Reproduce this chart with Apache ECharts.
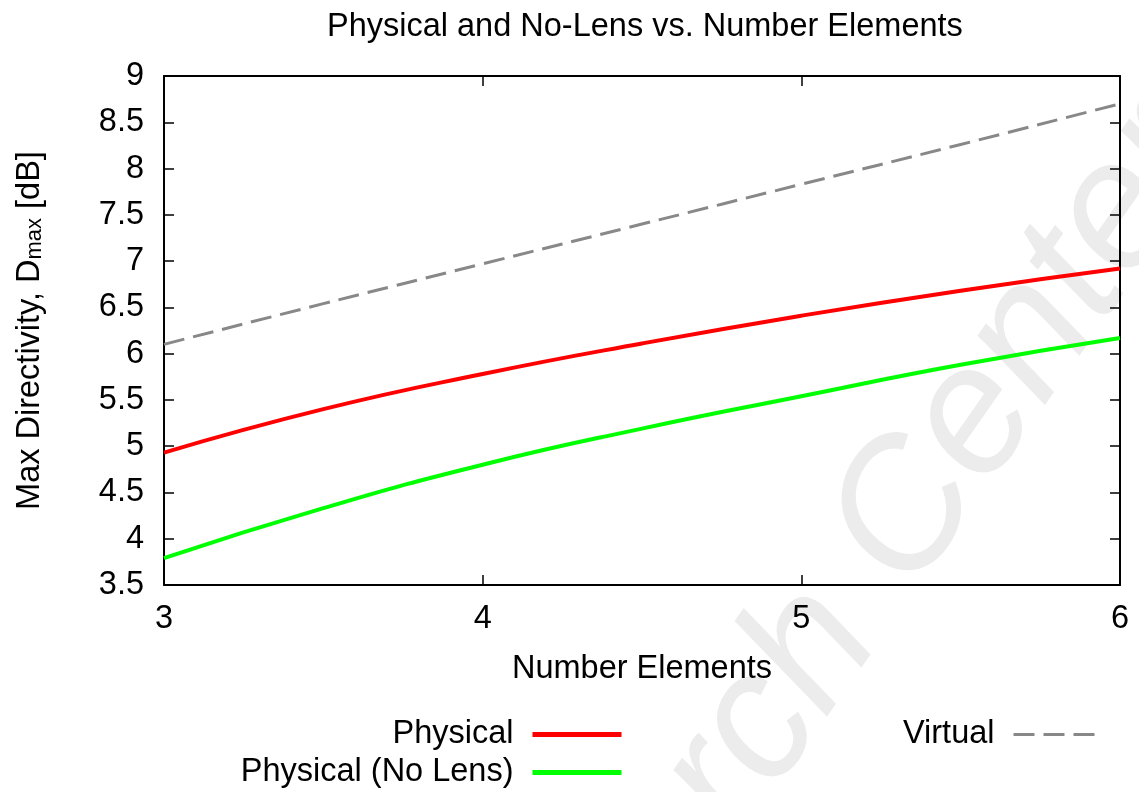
<!DOCTYPE html>
<html>
<head>
<meta charset="utf-8">
<script src="https://cdn.jsdelivr.net/npm/echarts@6/dist/echarts.min.js"></script>
<style>
html,body{margin:0;padding:0;background:#fff;}
#chart{width:1139px;height:792px;}
</style>
</head>
<body>
<div id="chart"></div>
<script>
const xValues = [3, 3.5, 4, 4.5, 5, 5.5, 6];
const physical = [4.93, 5.40, 5.78, 6.11, 6.41, 6.68, 6.92];
const physicalNoLens = [3.79, 4.33, 4.80, 5.19, 5.54, 5.88, 6.17];
const virtualVals = [6.10, 6.54, 6.97, 7.40, 7.83, 8.26, 8.70];
const seriesNames = ['Physical', 'Physical (No Lens)', 'Virtual'];
const titleText = 'Physical and No-Lens vs. Number Elements';
const xName = 'Number Elements';
const watermarkText = 'Research Center';

const FONT = '"Liberation Sans", Arial, Helvetica, sans-serif';
const FS = 32.5;
const pairs = arr => arr.map((v, i) => [xValues[i], v]);

const chart = echarts.init(document.getElementById('chart'), null, {renderer: 'canvas'});

const axisLine = {show: true, onZero: false, lineStyle: {color: '#000', width: 2}};
const axisTick = {show: true, inside: true, length: 10, lineStyle: {color: '#000', width: 1.5}};

const legendCommon = {
  orient: 'horizontal',
  align: 'right',
  itemWidth: 89,
  itemHeight: 14,
  selectedMode: false,
  itemStyle: {opacity: 0},
  textStyle: {fontFamily: FONT, fontSize: FS, color: '#000', padding: [0, 14, 0, 0]}
};

chart.setOption({
  backgroundColor: '#fff',
  animation: false,
  title: {
    text: titleText,
    left: 322,
    top: 6,
    textStyle: {fontFamily: FONT, fontSize: FS, fontWeight: 'normal', color: '#000'}
  },
  graphic: [{
    type: 'text',
    x: 790, y: 682,
    rotation: 55 * Math.PI / 180,
    z: -10,
    silent: true,
    style: {
      text: watermarkText,
      fontFamily: FONT,
      fontSize: 180,
      fontStyle: 'italic',
      fill: '#ececec',
      align: 'center',
      verticalAlign: 'middle'
    }
  }],
  legend: [
    Object.assign({}, legendCommon, {data: [seriesNames[0]], right: 510, top: 713,
      lineStyle: {width: 5, opacity: 1}}),
    Object.assign({}, legendCommon, {data: [seriesNames[1]], right: 510, top: 751,
      lineStyle: {width: 5, opacity: 1}}),
    Object.assign({}, legendCommon, {data: [seriesNames[2]], right: 30, top: 713,
      lineStyle: {width: 3, opacity: 1}})
  ],
  grid: {left: 163, right: 19, top: 76, bottom: 207, containLabel: false},
  xAxis: [{
    type: 'value', min: 3, max: 6, interval: 1, position: 'bottom',
    axisLine, axisTick, splitLine: {show: false},
    axisLabel: {fontFamily: FONT, fontSize: FS, color: '#000', margin: 18},
    name: xName, nameLocation: 'middle', nameGap: 68,
    nameTextStyle: {fontFamily: FONT, fontSize: FS, color: '#000'}
  }, {
    type: 'value', min: 3, max: 6, interval: 1, position: 'top',
    axisLine, axisTick, splitLine: {show: false}, axisLabel: {show: false}
  }],
  yAxis: [{
    type: 'value', min: 3.5, max: 9, interval: 0.5, position: 'left',
    axisLine, axisTick, splitLine: {show: false},
    axisLabel: {fontFamily: FONT, fontSize: FS, color: '#000', margin: 20},
    name: '{n|Max Directivity, D}{s|max}{n| [dB]}',
    nameLocation: 'middle', nameGap: 118,
    nameTextStyle: {
      fontFamily: FONT, fontSize: FS, color: '#000',
      rich: {
        n: {fontFamily: FONT, fontSize: FS, color: '#000', lineHeight: 32, verticalAlign: 'top'},
        s: {fontFamily: FONT, fontSize: 22, color: '#000', lineHeight: 22, verticalAlign: 'bottom', padding: [16, 0, 0, 0]}
      }
    }
  }, {
    type: 'value', min: 3.5, max: 9, interval: 0.5, position: 'right',
    axisLine, axisTick, splitLine: {show: false}, axisLabel: {show: false}
  }],
  series: [{
    name: seriesNames[0], type: 'line', smooth: true, symbol: 'none',
    data: pairs(physical),
    lineStyle: {color: '#ff0000', width: 4}, itemStyle: {color: '#ff0000'}
  }, {
    name: seriesNames[1], type: 'line', smooth: true, symbol: 'none',
    data: pairs(physicalNoLens),
    lineStyle: {color: '#00ff00', width: 4}, itemStyle: {color: '#00ff00'}
  }, {
    name: seriesNames[2], type: 'line', smooth: true, symbol: 'none',
    data: pairs(virtualVals),
    lineStyle: {color: '#888888', width: 3, type: [21, 9]}, itemStyle: {color: '#888888'}
  }]
});
</script>
</body>
</html>
